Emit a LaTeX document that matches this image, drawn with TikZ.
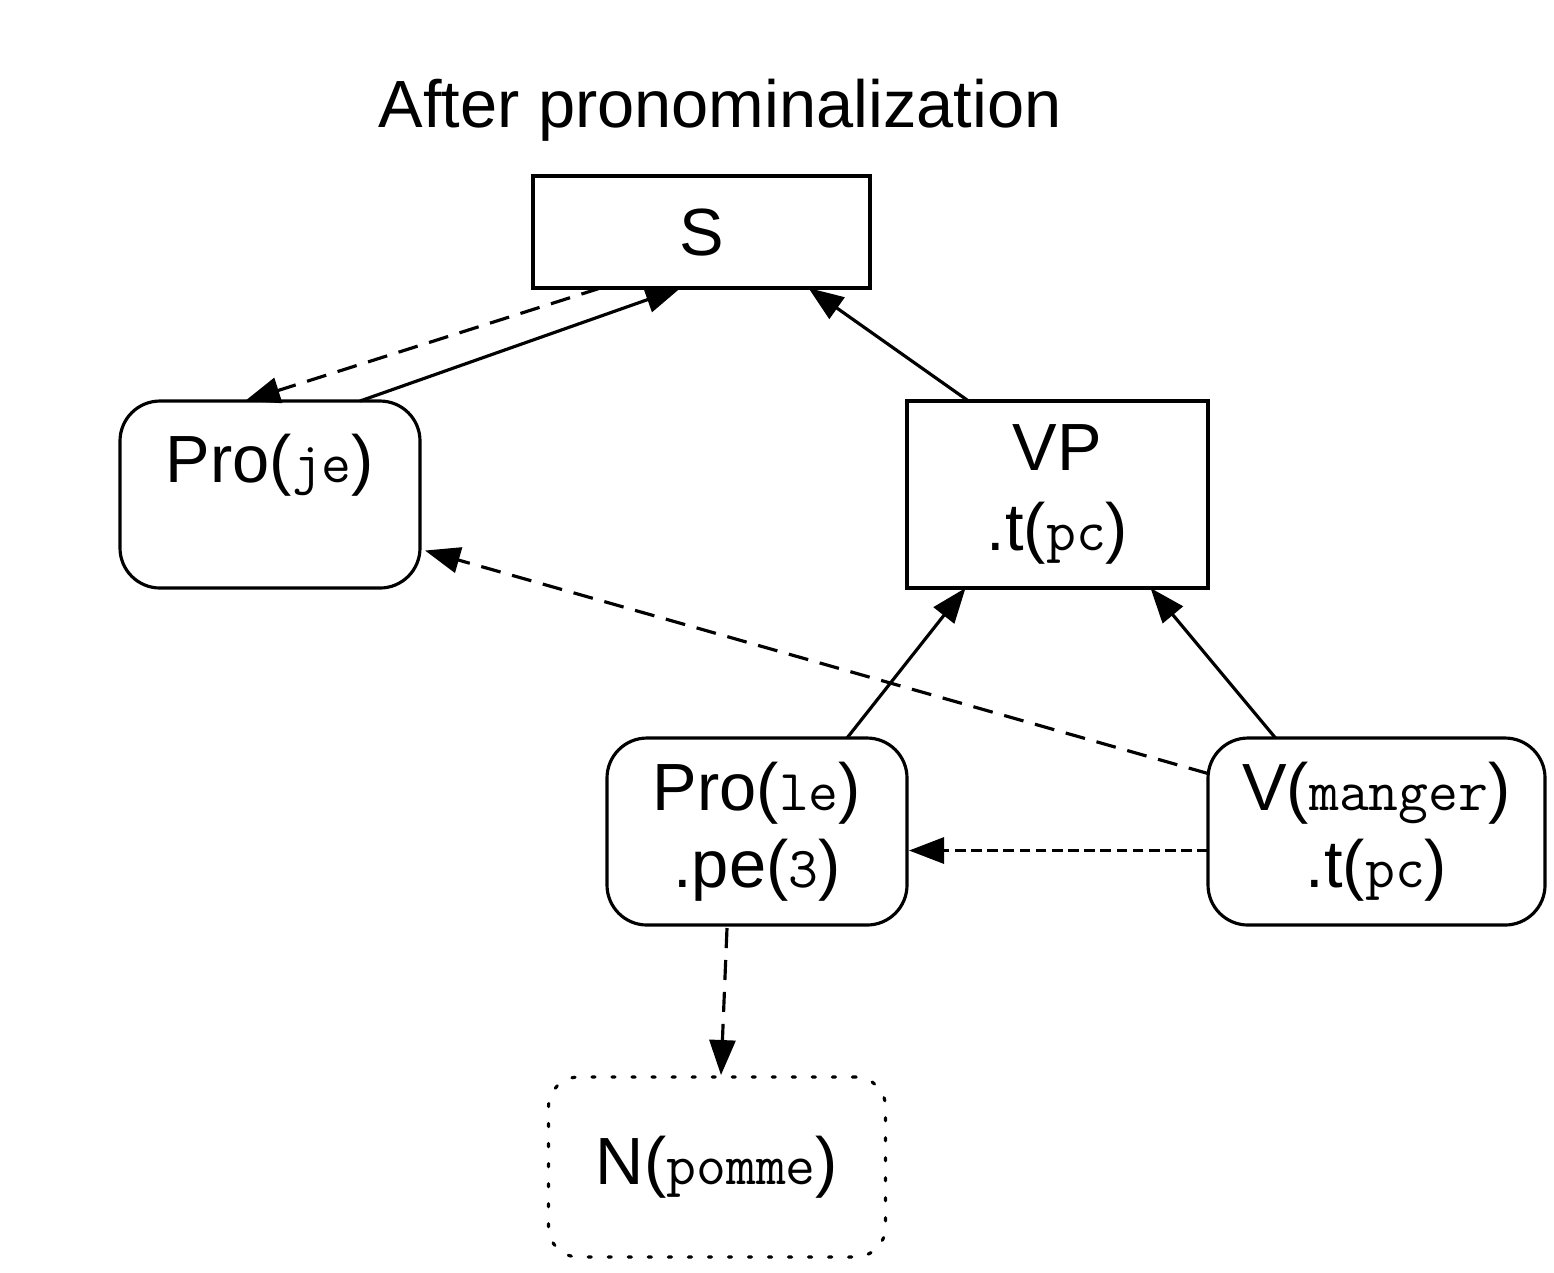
\documentclass[tikz,border=0pt]{standalone}
\usepackage{fontspec}
\setmainfont{Liberation Sans}
\usepackage{tikz}
\usetikzlibrary{positioning,arrows.meta}
\newcommand{\mono}[1]{{\fontsize{16.5}{22}\selectfont\ttfamily #1}}
\tikzset{
  base/.style={draw,align=center,inner sep=0pt,outer sep=0pt,line width=0.9pt,font=\fontsize{19}{22}\selectfont},
  sqnode/.style={base},
  rdnode/.style={base,rounded corners=4mm},
  ghnode/.style={base,rounded corners=3mm,dash pattern=on 0.9pt off 4.8pt,line cap=round},
  arr/.style={-{Triangle[length=3.5mm,width=2.6mm]},line width=0.9pt},
  darr/.style={arr,dash pattern=on 5.7pt off 3.4pt},
  sarr/.style={arr,dash pattern=on 3pt off 1.6pt}}
\begin{document}
\begin{tikzpicture}[node distance=15mm and 0mm]
\useasboundingbox (0,0) rectangle (15.54,-12.72);
\node[font=\fontsize{19}{22}\selectfont] (title) at (7.2,-1.1) {After pronominalization};
\node[sqnode, minimum width=3.37cm, minimum height=1.12cm] (s) at (7.015,-2.32) {S};
\node[rdnode, minimum width=3.0cm, minimum height=1.87cm, below left=1.13cm and 1.13cm of s] (proje) {Pro(\mono{je})\\[-8pt] \strut};
\node[sqnode, minimum width=3.01cm, minimum height=1.87cm, below right=1.13cm and 0.37cm of s] (vp) {VP\\[1pt] .t(\mono{pc})};
\node[rdnode, minimum width=3.0cm, minimum height=1.87cm, below left=of vp] (prole) {Pro(\mono{le})\\ .pe(\mono{3})};
\node[rdnode, minimum width=3.37cm, minimum height=1.87cm, below right=of vp] (manger) {V(\mono{manger})\\ .t(\mono{pc})};
\node[ghnode, minimum width=3.37cm, minimum height=1.8cm, below=1.52cm of prole, xshift=-4mm] (pomme) {N(\mono{pomme})};
% tree links
\draw[arr] ([xshift=9mm]proje.north) -- ([xshift=-2.1mm]s.south);
\draw[darr] ([xshift=-10.1mm]s.south) -- ([xshift=-2.5mm]proje.north);
\draw[arr] ([xshift=-8.9mm]vp.north) -- ([xshift=10.7mm]s.south);
\draw[arr] ([xshift=9mm]prole.north) -- ([xshift=-9.2mm]vp.south);
\draw[arr] ([xshift=-10.1mm]manger.north) -- ([xshift=9.3mm]vp.south);
% agreement
\draw[darr] ([yshift=5.8mm]manger.west) -- ([yshift=-5.6mm,xshift=0.5mm]proje.east);
\draw[sarr] ([yshift=-1.9mm]manger.west) -- ([yshift=-1.9mm,xshift=0.2mm]prole.east);
\draw[darr] ([xshift=-3mm,yshift=-0.3mm]prole.south) -- ([xshift=0.4mm,yshift=0.2mm]pomme.north);
\end{tikzpicture}
\end{document}
